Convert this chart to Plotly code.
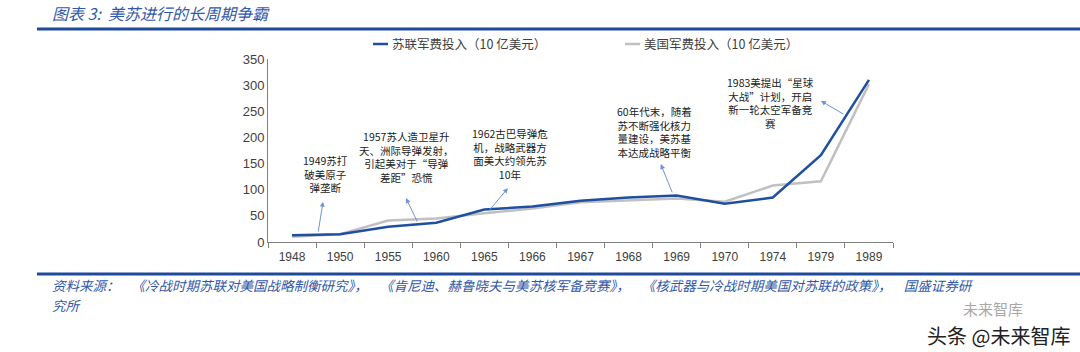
import plotly.graph_objects as go

years = ["1948", "1950", "1955", "1960", "1965", "1966", "1967", "1968", "1969", "1970", "1974", "1979", "1989"]
ussr = [13, 15, 29, 37, 62, 68, 79, 85, 89, 73, 85, 166, 310]
usa = [10, 15, 41, 45, 55, 64, 76, 80, 83, 77, 108, 116, 302]
y_ticks = [0, 50, 100, 150, 200, 250, 300, 350]

title_text = "图表 3:  美苏进行的长周期争霸"
legend_names = ["苏联军费投入（10 亿美元）", "美国军费投入（10 亿美元）"]
SP = "&nbsp;&nbsp;&nbsp;&nbsp;"
source_line1 = ("资料来源：" + SP + "《冷战时期苏联对美国战略制衡研究》，" + SP + "《肯尼迪、赫鲁晓夫与美苏核军备竞赛》，" + SP +
                "《核武器与冷战时期美国对苏联的政策》，" + SP + "国盛证券研")
source_line2 = "究所"

notes = [
    "1949苏打<br>破美原子<br>弹垄断",
    "1957苏人造卫星升<br>天、洲际导弹发射，<br>引起美对于“导弹<br>差距”恐慌",
    "1962古巴导弹危<br>机，战略武器方<br>面美大约领先苏<br>10年",
    "60年代末，随着<br>苏不断强化核力<br>量建设，美苏基<br>本达成战略平衡",
    "1983美提出“星球<br>大战”计划，开启<br>新一轮太空军备竞<br>赛",
]

W, H = 1080, 352
L, R, T, B = 268, 893, 59, 242
BLUE = "#1f4fa0"
GRAY = "#c0c0c0"
FONT = "Noto Sans CJK SC"


def px(x):
    return (x - L) / (R - L)


def py(y):
    return (B - y) / (B - T)


fig = go.Figure()
fig.add_trace(go.Scatter(x=years, y=usa, mode="lines", name=legend_names[1],
                         line=dict(color=GRAY, width=2.5), showlegend=False))
fig.add_trace(go.Scatter(x=years, y=ussr, mode="lines", name=legend_names[0],
                         line=dict(color=BLUE, width=2.5), showlegend=False))

ann = []
# title
ann.append(dict(text="<i>" + title_text + "</i>", x=px(50), y=py(13), xref="paper", yref="paper",
                xanchor="left", yanchor="middle", showarrow=False,
                font=dict(family=FONT, size=16, color="#3358a8")))
# legend
ann.append(dict(text=legend_names[0], x=px(390), y=py(44), xref="paper", yref="paper",
                xanchor="left", yanchor="middle", showarrow=False,
                font=dict(family=FONT, size=12.5, color="#404040")))
ann.append(dict(text=legend_names[1], x=px(642), y=py(44), xref="paper", yref="paper",
                xanchor="left", yanchor="middle", showarrow=False,
                font=dict(family=FONT, size=12.5, color="#404040")))
# source
ann.append(dict(text="<i>" + source_line1 + "</i>", x=px(50), y=py(285), xref="paper", yref="paper",
                xanchor="left", yanchor="middle", align="left", showarrow=False,
                font=dict(family=FONT, size=13.5, color="#3358a8")))
ann.append(dict(text="<i>" + source_line2 + "</i>", x=px(50), y=py(305), xref="paper", yref="paper",
                xanchor="left", yanchor="middle", align="left", showarrow=False,
                font=dict(family=FONT, size=13.5, color="#3358a8")))
# watermarks
ann.append(dict(text="未来智库", x=px(993), y=py(308), xref="paper", yref="paper",
                xanchor="center", yanchor="middle", showarrow=False,
                font=dict(family=FONT, size=15, color="#a8a8a8")))
ann.append(dict(text="头条 @未来智库", x=px(1072), y=py(335), xref="paper", yref="paper",
                xanchor="right", yanchor="middle", showarrow=False,
                font=dict(family=FONT, size=20, color="#222222")))

# note texts (pixel centre positions)
note_pos = [(325, 174), (406, 157), (510, 154), (654, 132), (770, 103)]
for t, (cx, cy) in zip(notes, note_pos):
    ann.append(dict(text=t, x=px(cx), y=py(cy), xref="paper", yref="paper",
                    xanchor="center", yanchor="middle", align="center", showarrow=False,
                    font=dict(family=FONT, size=10.5, color="#222222")))

# arrows: head (x, y) and tail (ax, ay) in data coordinates
arrows = [((0.645, 77), (0.54, 17)), ((2.37, 84), (2.62, 36)), ((4.49, 103), (4.06, 56)),
          ((7.67, 149), (7.92, 92)), ((11.0, 270), (11.5, 243))]
for (hx, hy), (tx, ty) in arrows:
    ann.append(dict(text="", x=hx, y=hy, ax=tx, ay=ty, xref="x", yref="y", axref="x", ayref="y",
                    showarrow=True, arrowhead=2, arrowsize=1, arrowwidth=1, arrowcolor="#6f93d8"))

shapes = [
    dict(type="line", xref="paper", yref="paper", x0=px(37), x1=px(1080), y0=py(29), y1=py(29),
         line=dict(color="#1f4a9c", width=3)),
    dict(type="line", xref="paper", yref="paper", x0=px(37), x1=px(1080), y0=py(274), y1=py(274),
         line=dict(color="#1f4a9c", width=3)),
    dict(type="line", xref="paper", yref="paper", x0=px(373), x1=px(388), y0=py(44), y1=py(44),
         line=dict(color=BLUE, width=2.5)),
    dict(type="line", xref="paper", yref="paper", x0=px(625), x1=px(640), y0=py(44), y1=py(44),
         line=dict(color=GRAY, width=2.5)),
]

fig.update_layout(
    width=W, height=H,
    margin=dict(l=L, r=W - R, t=T, b=H - B),
    paper_bgcolor="white", plot_bgcolor="white",
    annotations=ann, shapes=shapes,
    xaxis=dict(type="category", categoryorder="array", categoryarray=years,
               range=[-0.5, len(years) - 0.5], showgrid=False,
               showline=True, linecolor="#808080", linewidth=1,
               ticks="outside", tickson="boundaries", ticklen=5, tickcolor="#808080",
               ticklabelstandoff=4,
               tickfont=dict(family="Liberation Sans", size=12, color="#404040")),
    yaxis=dict(range=[0, 350], tickvals=y_ticks, showgrid=False, zeroline=False,
               showline=True, linecolor="#808080", linewidth=1, ticks="",
               tickfont=dict(family="Liberation Sans", size=13, color="#404040")),
)

fig.write_html("out.html")
